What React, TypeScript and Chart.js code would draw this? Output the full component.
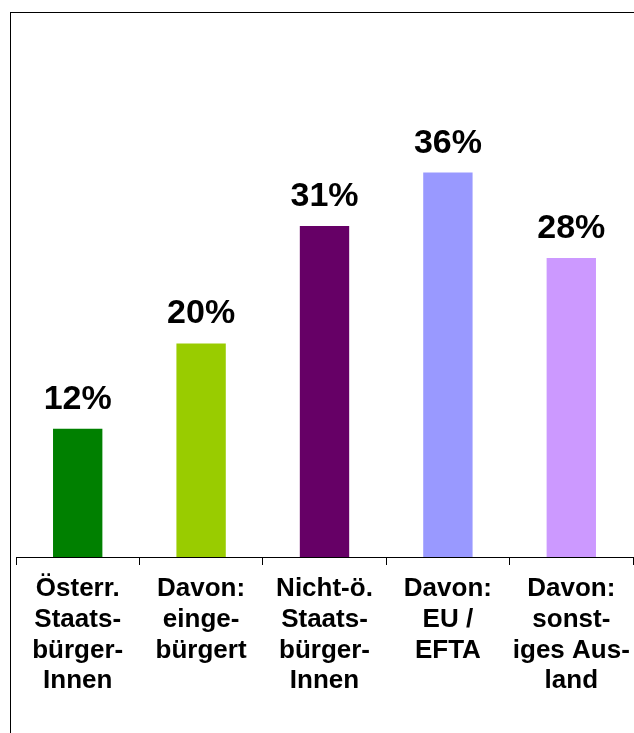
import React, { useEffect, useRef } from "react";
import { Chart, registerables } from "chart.js";

Chart.register(...registerables);

const categories: string[][] = [
  ["Österr.", "Staats-", "bürger-", "Innen"],
  ["Davon:", "einge-", "bürgert"],
  ["Nicht-ö.", "Staats-", "bürger-", "Innen"],
  ["Davon:", "EU /", "EFTA"],
  ["Davon:", "sonst-", "iges Aus-", "land"],
];
const values: number[] = [12, 20, 31, 36, 28];
const barColors: string[] = ["#008000", "#99CC00", "#660066", "#9999FF", "#CC99FF"];

const FONT = "'Liberation Sans', Arial, Helvetica, sans-serif";

const valueLabels = {
  id: "valueLabels",
  afterDatasetsDraw(chart: any) {
    const ctx = chart.ctx;
    const meta = chart.getDatasetMeta(0);
    ctx.save();
    ctx.font = `bold 34px ${FONT}`;
    ctx.fillStyle = "#000";
    ctx.textAlign = "center";
    ctx.textBaseline = "alphabetic";
    meta.data.forEach((bar: any, i: number) => {
      ctx.fillText(`${values[i]}%`, bar.x, bar.y - 20);
    });
    ctx.restore();
  },
};

export default function App() {
  const ref = useRef<HTMLCanvasElement>(null);
  useEffect(() => {
    if (!ref.current) return;
    const chart = new Chart(ref.current, {
      type: "bar",
      data: {
        labels: categories,
        datasets: [
          {
            data: values,
            backgroundColor: barColors,
            borderWidth: 0,
            barPercentage: 0.4,
            categoryPercentage: 1,
          },
        ],
      },
      options: {
        responsive: false,
        animation: false,
        devicePixelRatio: 1,
        layout: { padding: { left: 16, right: 1, top: 23, bottom: 0 } },
        plugins: { legend: { display: false }, tooltip: { enabled: false } },
        scales: {
          x: {
            afterFit: (scale: any) => {
              scale.height = 176;
              scale.paddingLeft = 0;
              scale.paddingRight = 0;
            },
            border: { display: true, color: "#000", width: 1 },
            grid: {
              display: true,
              drawOnChartArea: false,
              drawTicks: true,
              tickLength: 8,
              color: "#000",
              lineWidth: 1,
              offset: true,
            },
            ticks: {
              color: "#000",
              font: { family: FONT, size: 26, weight: "bold", lineHeight: 1.19 },
              padding: 8,
              maxRotation: 0,
              minRotation: 0,
              autoSkip: false,
            },
          },
          y: { display: false, min: 0, max: 50 },
        },
      },
      plugins: [valueLabels],
    });
    return () => chart.destroy();
  }, []);

  return (
    <div
      style={{
        position: "fixed",
        left: 0,
        top: 0,
        width: 634,
        height: 733,
        overflow: "hidden",
        background: "#fff",
      }}
    >
      <div
        style={{
          position: "absolute",
          left: 10,
          top: 12,
          width: 800,
          height: 900,
          borderTop: "1px solid #000",
          borderLeft: "1px solid #000",
        }}
      />
      <canvas
        ref={ref}
        width={634}
        height={733}
        style={{ position: "absolute", left: 0, top: 0, display: "block" }}
      />
    </div>
  );
}
